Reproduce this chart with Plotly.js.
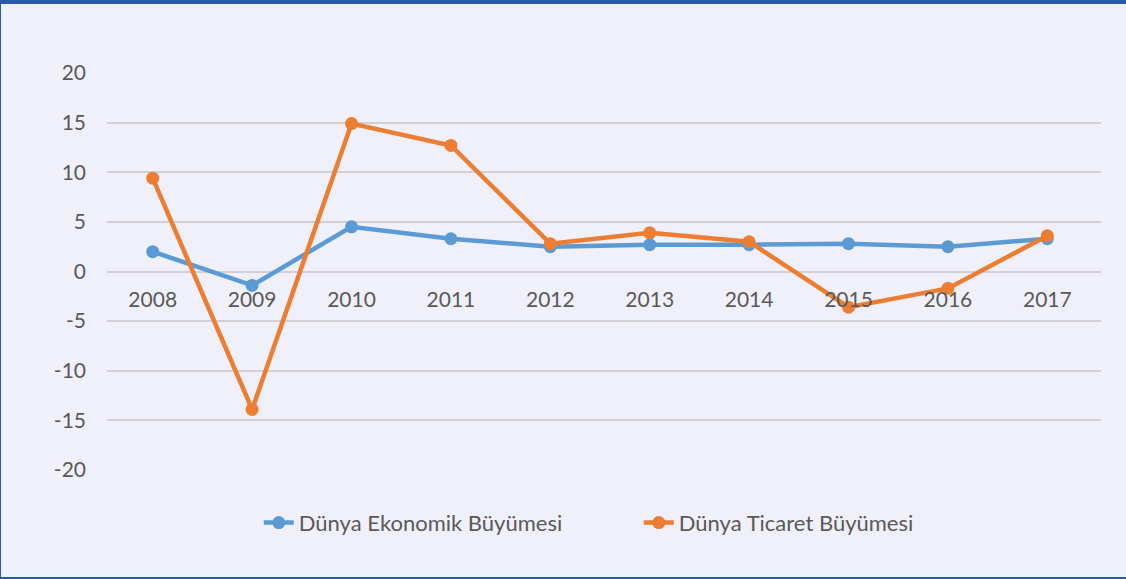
<!DOCTYPE html>
<html>
<head>
<meta charset="utf-8">
<script src="https://cdn.plot.ly/plotly-3.0.1.min.js"></script>
<style>
html,body{margin:0;padding:0;background:#F0F0FA;}
#wrap{position:relative;width:1126px;height:579px;overflow:hidden;}
#chart{position:absolute;left:0;top:0;width:1126px;height:579px;}
.b{position:absolute;background:#2A5BA9;pointer-events:none;}
</style>
</head>
<body>
<div id="wrap">
<div id="chart"></div>
<div class="b" style="left:0;top:0;width:1126px;height:4px;"></div>
<div class="b" style="left:0;top:0;width:1px;height:579px;"></div>
<div class="b" style="left:0;top:577px;width:1126px;height:2px;"></div>
</div>
<script>
const years = ['2008','2009','2010','2011','2012','2013','2014','2015','2016','2017'];
const ekonomikBuyume = [2.0, -1.4, 4.5, 3.3, 2.5, 2.7, 2.7, 2.8, 2.5, 3.3];
const ticaretBuyume = [9.4, -13.9, 14.9, 12.7, 2.8, 3.9, 3.0, -3.6, -1.7, 3.6];
const yTicks = [-20, -15, -10, -5, 0, 5, 10, 15, 20];

const font = 'Lato, "Open Sans", sans-serif';
const traces = [
  {x: years, y: ekonomikBuyume, name: 'Dünya Ekonomik Büyümesi', type: 'scatter', mode: 'lines+markers',
   line: {color: '#5B9BD5', width: 4.5}, marker: {color: '#5B9BD5', size: 13}},
  {x: years, y: ticaretBuyume, name: 'Dünya Ticaret Büyümesi', type: 'scatter', mode: 'lines+markers',
   line: {color: '#ED7D31', width: 4.5}, marker: {color: '#ED7D31', size: 13}}
];
const layout = {
  width: 1126, height: 579,
  paper_bgcolor: 'rgba(0,0,0,0)', plot_bgcolor: 'rgba(0,0,0,0)',
  margin: {l: 107, r: 25, t: 73, b: 109},
  font: {family: font, size: 21, color: '#595959'},
  showlegend: true,
  legend: {orientation: 'h', x: 0.535, xanchor: 'center', y: -0.08, yanchor: 'top',
           font: {family: font, size: 22, color: '#595959'}, entrywidth: 335, entrywidthmode: 'pixels'},
  xaxis: {type: 'category', range: [-0.46, 9.54], anchor: 'free', position: 0.5,
          showgrid: false, zeroline: false, showline: false, ticks: '',
          ticklabelstandoff: 13, tickfont: {family: font, size: 21, color: '#595959'}},
  yaxis: {range: [-20, 20], tickvals: yTicks, ticktext: yTicks.map(String),
          showgrid: true, gridcolor: '#D0D0D6', gridwidth: 2, zeroline: false, showline: false,
          ticks: '', ticklabelstandoff: 20, tickfont: {family: font, size: 21, color: '#595959'}}
};
Plotly.newPlot('chart', traces, layout, {staticPlot: true});
</script>
</body>
</html>
